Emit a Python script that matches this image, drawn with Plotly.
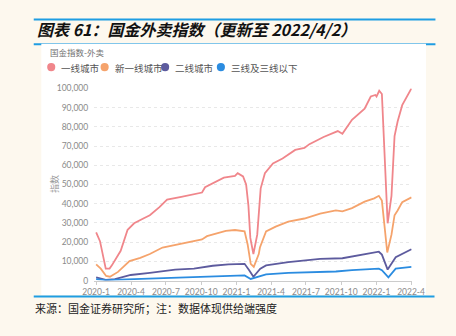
import plotly.graph_objects as go

W, H = 456, 336

series_names = ["一线城市", "新一线城市", "二线城市", "三线及三线以下"]
series_colors = ["#f0868b", "#f5a36c", "#5d5b9e", "#2b8ce0"]

tier1_dates = ["2020-01-01", "2020-01-11", "2020-01-26", "2020-02-05", "2020-02-11", "2020-03-05",
               "2020-03-23", "2020-04-09", "2020-05-03", "2020-05-20", "2020-06-14", "2020-07-04",
               "2020-08-10", "2020-09-12", "2020-10-03", "2020-10-11", "2020-10-31", "2020-11-29",
               "2020-12-28", "2021-01-04", "2021-01-18", "2021-01-26", "2021-02-01", "2021-02-06",
               "2021-02-14", "2021-02-24", "2021-03-05", "2021-03-16", "2021-04-06", "2021-05-01",
               "2021-06-03", "2021-06-27", "2021-07-10", "2021-08-16", "2021-09-22", "2021-10-04",
               "2021-10-29", "2021-12-01", "2021-12-17", "2021-12-29", "2022-01-01", "2022-01-08",
               "2022-01-15", "2022-01-23", "2022-01-30", "2022-02-09", "2022-02-17", "2022-02-25",
               "2022-03-09", "2022-04-02"]
tier1_values = [25100, 20500, 6200, 6200, 7900, 15500,
                26400, 29800, 32300, 34000, 38200, 42100,
                43600, 44900, 45800, 48600, 50600, 53600,
                54500, 55900, 54200, 50000, 39000, 22200,
                13800, 23900, 48000, 55900, 61000, 63500,
                68000, 69000, 71000, 74700, 77800, 76400,
                83700, 89500, 95800, 96600, 95800, 98800,
                97100, 62600, 29800, 44100, 75200, 82800,
                91300, 100000]

newtier1_dates = ["2020-01-01", "2020-01-13", "2020-01-27", "2020-02-06", "2020-02-27", "2020-03-28",
                  "2020-04-25", "2020-05-20", "2020-06-22", "2020-08-10", "2020-10-03", "2020-10-16",
                  "2020-11-17", "2020-12-04", "2020-12-28", "2021-01-22", "2021-01-30", "2021-02-07",
                  "2021-02-15", "2021-02-28", "2021-03-03", "2021-03-19", "2021-04-13", "2021-05-16",
                  "2021-06-27", "2021-08-07", "2021-09-17", "2021-10-04", "2021-10-29", "2021-12-01",
                  "2021-12-26", "2022-01-07", "2022-01-15", "2022-01-29", "2022-02-09", "2022-02-17",
                  "2022-02-25", "2022-03-09", "2022-04-02"]
newtier1_values = [8400, 6200, 2400, 2000, 4500, 10100,
                   11800, 13800, 17200, 19200, 21400, 23100,
                   24700, 25900, 26300, 25600, 18800, 8700,
                   7100, 13800, 17200, 25600, 28100, 30700,
                   32300, 34800, 36500, 36000, 37700, 41100,
                   42800, 44100, 41600, 14600, 23900, 34000,
                   36500, 40800, 43300]

tier2_dates = ["2020-01-01", "2020-01-13", "2020-01-26", "2020-02-19", "2020-03-31", "2020-05-20",
               "2020-07-25", "2020-09-12", "2020-10-31", "2020-12-11", "2021-01-22", "2021-02-03",
               "2021-02-14", "2021-03-04", "2021-03-19", "2021-05-16", "2021-08-07", "2021-10-04",
               "2021-12-01", "2022-01-07", "2022-01-15", "2022-01-30", "2022-02-20", "2022-04-02"]
tier2_values = [1700, 1200, 350, 700, 2900, 4000,
                5700, 6200, 7700, 8400, 8700, 5400,
                2000, 6200, 7900, 9600, 11300, 11600,
                13500, 15000, 13500, 5700, 12100, 16300]

tier3_dates = ["2020-01-01", "2020-01-26", "2020-04-09", "2020-07-03", "2020-09-23", "2020-12-11",
               "2021-01-22", "2021-02-07", "2021-03-19", "2021-05-16", "2021-09-17", "2021-10-29",
               "2022-01-07", "2022-01-15", "2022-02-01", "2022-02-20", "2022-04-02"]
tier3_values = [700, 200, 700, 1200, 1700, 2500,
                2700, 850, 3200, 4000, 4700, 5400,
                6200, 5400, 1700, 6200, 7100]

y_ticks = [0, 10000, 20000, 30000, 40000, 50000, 60000, 70000, 80000, 90000, 100000]
x_tick_dates = ["2020-01-01", "2020-04-01", "2020-07-01", "2020-10-01", "2021-01-01",
                "2021-04-01", "2021-07-01", "2021-10-01", "2022-01-01", "2022-04-01"]
x_tick_labels = ["2020-1", "2020-4", "2020-7", "2020-10", "2021-1",
                 "2021-4", "2021-7", "2021-10", "2022-1", "2022-4"]

title_text = "图表 61：国金外卖指数（更新至 2022/4/2）"
subtitle_text = "国金指数-外卖"
source_text = "来源：国金证券研究所；注：数据体现供给端强度"
y_title = "指数"

all_dates = [tier1_dates, newtier1_dates, tier2_dates, tier3_dates]
all_values = [tier1_values, newtier1_values, tier2_values, tier3_values]


def px_x(v):
    return v / W


def px_y(v):
    return 1 - v / H


fig = go.Figure()
for name, col, d, v in zip(series_names, series_colors, all_dates, all_values):
    fig.add_trace(go.Scatter(x=d, y=v, mode="lines", name=name,
                             line=dict(color=col, width=1.8), showlegend=False))

shapes = []
blue = "#1f9de2"
# top rule and header rule
shapes.append(dict(type="line", xref="paper", yref="paper", x0=px_x(23), x1=px_x(448),
                   y0=px_y(15), y1=px_y(15), line=dict(color=blue, width=2), layer="below"))
shapes.append(dict(type="line", xref="paper", yref="paper", x0=px_x(23), x1=px_x(448),
                   y0=px_y(40.5), y1=px_y(40.5), line=dict(color=blue, width=2), layer="below"))
# white panel
shapes.append(dict(type="rect", xref="paper", yref="paper", x0=px_x(31), x1=px_x(438),
                   y0=px_y(299), y1=px_y(40), fillcolor="white", line=dict(width=0), layer="below"))
# bottom rule
shapes.append(dict(type="line", xref="paper", yref="paper", x0=px_x(23), x1=px_x(447),
                   y0=px_y(300.5), y1=px_y(300.5), line=dict(color=blue, width=2), layer="below"))

annotations = [
    dict(text=title_text, x=px_x(24), y=px_y(25), xref="paper", yref="paper",
         xanchor="left", yanchor="middle", showarrow=False,
         font=dict(family="Noto Sans CJK SC", size=16, color="#111", style="italic", weight="bold")),
    dict(text=subtitle_text, x=px_x(38), y=px_y(48), xref="paper", yref="paper",
         xanchor="left", yanchor="middle", showarrow=False,
         font=dict(family="Noto Sans CJK SC", size=8.5, color="#6f6f6f")),
    dict(text=source_text, x=px_x(22), y=px_y(312), xref="paper", yref="paper",
         xanchor="left", yanchor="middle", showarrow=False,
         font=dict(family="Noto Sans CJK SC", size=11, color="#222")),
    dict(text=y_title, x=px_x(45), y=px_y(185), xref="paper", yref="paper",
         xanchor="center", yanchor="middle", showarrow=False, textangle=-90,
         font=dict(family="Noto Sans CJK SC", size=9, color="#999")),
]

# manual legend
legend_circle_x = [41.5, 98, 162, 221]
for name, col, cx in zip(series_names, series_colors, legend_circle_x):
    r = 4.3
    shapes.append(dict(type="circle", xref="paper", yref="paper",
                       x0=px_x(cx - r), x1=px_x(cx + r), y0=px_y(64 + r), y1=px_y(64 - r),
                       fillcolor=col, line=dict(width=0)))
    annotations.append(dict(text=name, x=px_x(cx + 8.5), y=px_y(64.5), xref="paper", yref="paper",
                            xanchor="left", yanchor="middle", showarrow=False,
                            font=dict(family="Noto Sans CJK SC", size=9.5, color="#555")))

fig.update_layout(
    width=W, height=H,
    margin=dict(l=0, r=0, t=0, b=0),
    paper_bgcolor="#fdf8ee",
    plot_bgcolor="rgba(0,0,0,0)",
    shapes=shapes,
    annotations=annotations,
    xaxis=dict(domain=[px_x(87), px_x(423)], type="date",
               range=["2019-12-27", "2022-04-03"],
               tickvals=x_tick_dates, ticktext=x_tick_labels,
               showgrid=False, showline=True, linecolor="#cccccc", linewidth=1,
               ticks="outside", ticklen=3, tickcolor="#cccccc",
               tickfont=dict(family="Lato", size=8.5, color="#8a8a8a"),
               zeroline=False, fixedrange=True),
    yaxis=dict(domain=[px_y(284), px_y(86)], range=[0, 100000],
               tickvals=y_ticks, tickformat=",d",
               showgrid=True, gridcolor="#e8e8e8", griddash="3px,3px", gridwidth=1,
               showline=False, zeroline=False, ticks="", ticklabelstandoff=5,
               tickfont=dict(family="Lato", size=8.5, color="#8a8a8a"), fixedrange=True),
    showlegend=False,
)

fig.write_html("out.html")
